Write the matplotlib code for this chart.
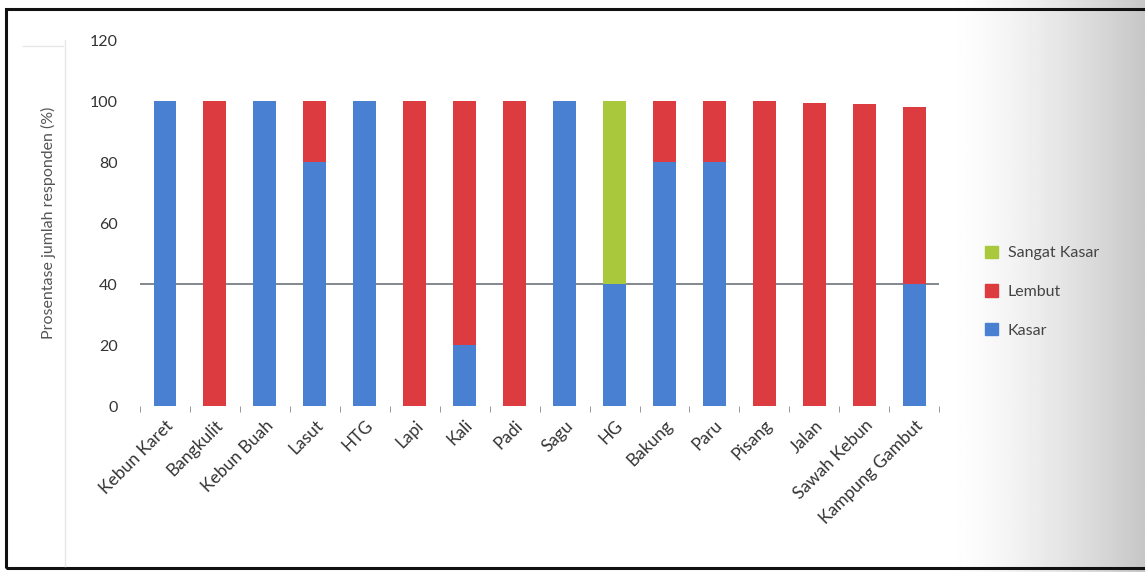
import numpy as np
import matplotlib
matplotlib.use("Agg")
import matplotlib.pyplot as plt
from matplotlib.patches import Patch, Rectangle

plt.rcParams['font.family'] = ['Lato', 'DejaVu Sans']

lokasi = ["Kebun Karet", "Bangkulit", "Kebun Buah", "Lasut", "HTG", "Lapi",
          "Kali", "Padi", "Sagu", "HG", "Bakung", "Paru", "Pisang", "Jalan",
          "Sawah Kebun", "Kampung Gambut"]
kasar = [100, 0, 100, 80, 100, 0, 20, 0, 100, 40, 80, 80, 0, 0, 0, 40]
lembut = [0, 100, 0, 20, 0, 100, 80, 100, 0, 0, 20, 20, 100, 99.5, 99, 58]
sangat_kasar = [0, 0, 0, 0, 0, 0, 0, 0, 0, 60, 0, 0, 0, 0, 0, 0]
yticks = [0, 20, 40, 60, 80, 100, 120]

c_kasar = "#4a80d2"
c_lembut = "#dc3c40"
c_sangat = "#a9c83c"
txt = "#333333"

fig = plt.figure(figsize=(11.45, 5.72), dpi=100)

# background with the grey fade on the right side
bg = fig.add_axes([0, 0, 1, 1], zorder=-5)
xx = np.linspace(0, 1, 400)
grad = np.tile(1 - 0.22 * np.clip((xx - 0.83) / 0.17, 0, 1) ** 1.4, (2, 1))
bg.imshow(grad, cmap="gray", vmin=0, vmax=1, aspect="auto",
          extent=[0, 1, 0, 1], interpolation="bilinear")
bg.set_xlim(0, 1)
bg.set_ylim(0, 1)
bg.axis("off")
bg.add_patch(Rectangle((0.005, 0.007), 1.05, 0.978, fill=False,
                       edgecolor="#111111", linewidth=2.2))
bg.plot([0.057, 0.057], [0.01, 0.93], color="#e6e6e6", lw=1)
bg.plot([0.02, 0.055], [0.92, 0.92], color="#e6e6e6", lw=1)

ax = fig.add_axes([0.1223, 0.290, 0.698, 0.640])
ax.patch.set_alpha(0)
x = np.arange(len(lokasi))
w = 0.46
ax.bar(x, kasar, w, color=c_kasar, zorder=3)
ax.bar(x, lembut, w, bottom=kasar, color=c_lembut, zorder=3)
ax.bar(x, sangat_kasar, w, bottom=np.array(kasar) + np.array(lembut),
       color=c_sangat, zorder=3)
ax.axhline(40, color="#7a7f86", lw=1.3, zorder=1)

ax.set_xlim(-0.5, len(lokasi) - 0.5)
ax.set_ylim(0, 120)
ax.set_yticks(yticks)
ax.set_yticklabels([str(v) for v in yticks], color=txt, fontsize=11.5)
ax.tick_params(axis="y", length=0, pad=16)
ax.set_xticks(x)
ax.set_xticklabels(lokasi, rotation=45, ha="right", rotation_mode="anchor",
                   color=txt, fontsize=12.5)
ax.tick_params(axis="x", which="major", length=0, pad=8)
ax.set_xticks(np.arange(-0.5, len(lokasi)), minor=True)
ax.tick_params(axis="x", which="minor", length=4, color="#888888", direction="out")
for s in ax.spines.values():
    s.set_visible(False)
ax.set_ylabel("Prosentase jumlah responden (%)", color="#555555", fontsize=11.5,
              labelpad=24)

handles = [Patch(color=c_sangat), Patch(color=c_lembut), Patch(color=c_kasar)]
fig.legend(handles, ["Sangat Kasar", "Lembut", "Kasar"], loc="center left",
           bbox_to_anchor=(0.848, 0.49), frameon=False, fontsize=11.5,
           labelspacing=1.5, handlelength=0.8, handleheight=0.8,
           handletextpad=0.6, labelcolor="#444444")

fig.savefig("out.png", dpi=100)
